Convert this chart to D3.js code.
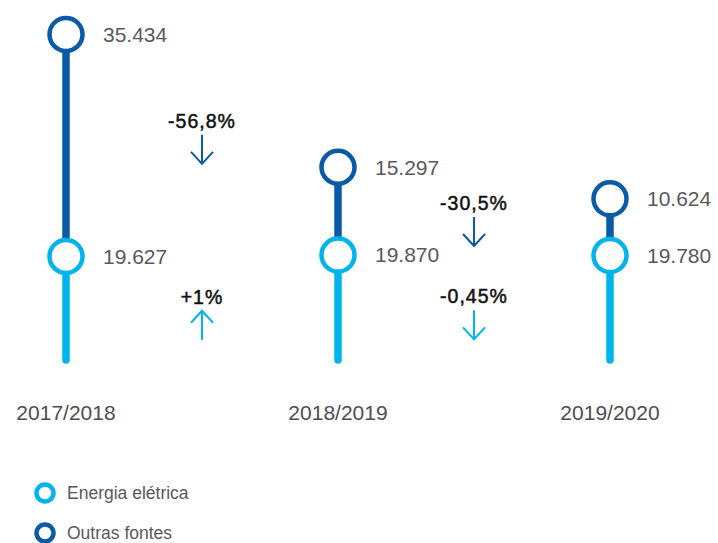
<!DOCTYPE html>
<html lang="pt">
<head>
    <meta charset="UTF-8">
    <style>
        body { margin: 0; background: #fff; }
        text { font-family: "Liberation Sans", Arial, sans-serif; }
        .value { font-size: 21px; fill: #58595b; }
        .year { font-size: 21px; fill: #4d4d4f; }
        .change { font-size: 19.5px; fill: #111; stroke: #111; stroke-width: 0.5px; letter-spacing: 1px; }
        .legend { font-size: 17.5px; fill: #58595b; }
    </style>
    <script src="https://d3js.org/d3.v7.min.js"></script>
    <title>Energia elétrica x Outras fontes</title>
</head>
<body>
    <svg width="718" height="543"></svg>
    <script>

        // data
        var years = ["2017/2018", "2018/2019", "2019/2020"];
        var energia = [19627, 19870, 19780];
        var outras = [35434, 15297, 10624];
        var energiaLabels = ["19.627", "19.870", "19.780"];
        var outrasLabels = ["35.434", "15.297", "10.624"];
        var energiaChange = ["+1%", "-0,45%"];
        var outrasChange = ["-56,8%", "-30,5%"];
        var legendNames = ["Energia elétrica", "Outras fontes"];

        var light = "#00b3ea",
            dark = "#0a5aa8";

        var svg = d3.select("svg");

        // column positions
        var x = d3.scalePoint().domain(years).range([66, 610]);

        // energia measured up from the base line
        var baseY = 360;
        var yEnergia = d3.scaleLinear().domain([0, 19700]).range([baseY, 256]);
        // outras measured up from the energia circle
        var hOutras = d3.scaleLinear().domain([0, 35434]).range([-14, 222]);

        var rows = years.map(function(y, i) {
            var ye = yEnergia(energia[i]);
            return {
                year: y,
                x: x(y),
                ye: ye,
                yo: ye - hOutras(outras[i]),
                eLabel: energiaLabels[i],
                oLabel: outrasLabels[i]
            };
        });

        var col = svg.selectAll(".col")
            .data(rows)
            .enter().append("g")
            .attr("class", "col");

        // light stem
        col.append("line")
            .attr("x1", function(d) { return d.x; })
            .attr("x2", function(d) { return d.x; })
            .attr("y1", baseY)
            .attr("y2", function(d) { return d.ye; })
            .attr("stroke", light)
            .attr("stroke-width", 7.5)
            .attr("stroke-linecap", "round");

        // dark stem
        col.append("line")
            .attr("x1", function(d) { return d.x; })
            .attr("x2", function(d) { return d.x; })
            .attr("y1", function(d) { return d.ye; })
            .attr("y2", function(d) { return d.yo; })
            .attr("stroke", dark)
            .attr("stroke-width", 7.5);

        col.append("circle")
            .attr("cx", function(d) { return d.x; })
            .attr("cy", function(d) { return d.yo; })
            .attr("r", 16.5)
            .attr("fill", "#fff")
            .attr("stroke", dark)
            .attr("stroke-width", 4.5);

        col.append("circle")
            .attr("cx", function(d) { return d.x; })
            .attr("cy", function(d) { return d.ye; })
            .attr("r", 16.5)
            .attr("fill", "#fff")
            .attr("stroke", light)
            .attr("stroke-width", 4.5);

        col.append("text")
            .attr("class", "value")
            .attr("x", function(d) { return d.x + 37; })
            .attr("y", function(d) { return d.yo; })
            .attr("dy", "0.35em")
            .text(function(d) { return d.oLabel; });

        col.append("text")
            .attr("class", "value")
            .attr("x", function(d) { return d.x + 37; })
            .attr("y", function(d) { return d.ye; })
            .attr("dy", "0.35em")
            .text(function(d) { return d.eLabel; });

        col.append("text")
            .attr("class", "year")
            .attr("x", function(d) { return d.x; })
            .attr("y", 413)
            .attr("dy", "0.35em")
            .attr("text-anchor", "middle")
            .text(function(d) { return d.year; });

        // change annotations between columns
        function arrow(g, cx, top, len, up, color) {
            var head = 12, half = 11;
            var path = up
                ? "M" + cx + "," + (top + len) + "V" + top +
                  "M" + (cx - half) + "," + (top + head) + "L" + cx + "," + top + "L" + (cx + half) + "," + (top + head)
                : "M" + cx + "," + top + "V" + (top + len) +
                  "M" + (cx - half) + "," + (top + len - head) + "L" + cx + "," + (top + len) + "L" + (cx + half) + "," + (top + len - head);
            g.append("path")
                .attr("d", path)
                .attr("fill", "none")
                .attr("stroke", color)
                .attr("stroke-width", 2);
        }

        var changes = [];
        outrasChange.forEach(function(c, i) {
            changes.push({
                text: c,
                x: (rows[i].x + rows[i + 1].x) / 2,
                y: (rows[i].yo + rows[i + 1].yo) / 2 + 20,
                up: c.charAt(0) === "+",
                color: dark
            });
        });
        energiaChange.forEach(function(c, i) {
            changes.push({
                text: c,
                x: (rows[i].x + rows[i + 1].x) / 2,
                y: (rows[i].ye + rows[i + 1].ye) / 2 + 41,
                up: c.charAt(0) === "+",
                color: light
            });
        });

        var ch = svg.selectAll(".chg")
            .data(changes)
            .enter().append("g")
            .attr("class", "chg");

        ch.append("text")
            .attr("class", "change")
            .attr("x", function(d) { return d.x; })
            .attr("y", function(d) { return d.y; })
            .attr("dy", "0.35em")
            .attr("text-anchor", "middle")
            .text(function(d) { return d.text; });

        ch.each(function(d) {
            arrow(d3.select(this), d.x, d.y + 14, 29, d.up, d.color);
        });

        // legend
        var legend = svg.selectAll(".leg")
            .data(legendNames)
            .enter().append("g")
            .attr("class", "leg")
            .attr("transform", function(d, i) { return "translate(45," + (493 + i * 40) + ")"; });

        legend.append("circle")
            .attr("r", 8.5)
            .attr("fill", "#fff")
            .attr("stroke", function(d, i) { return i === 0 ? light : dark; })
            .attr("stroke-width", 4.5);

        legend.append("text")
            .attr("class", "legend")
            .attr("x", 22)
            .attr("dy", "0.35em")
            .text(function(d) { return d; });

    </script>
</body>
</html>
